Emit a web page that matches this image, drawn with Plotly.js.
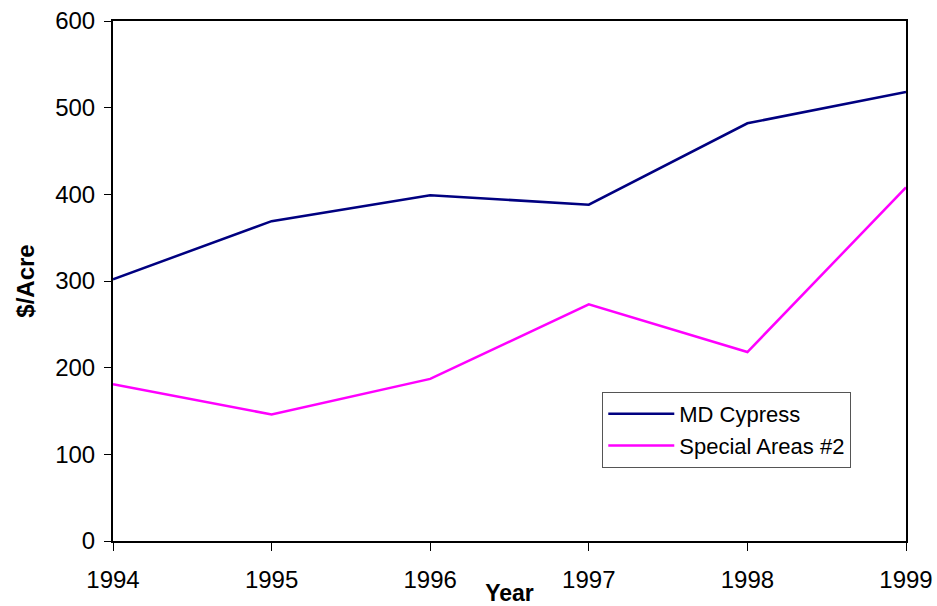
<!DOCTYPE html>
<html><head><meta charset="utf-8">
<script src="https://cdn.plot.ly/plotly-3.0.1.min.js"></script>
<style>body{margin:0;}#chart{width:937px;height:606px;}</style>
</head><body><div id="chart"></div>
<script>
const years = [1994, 1995, 1996, 1997, 1998, 1999];
const mdCypress = [302, 369, 399, 388, 482, 518];
const specialAreas2 = [181, 146, 187, 273, 218, 408];
const yTicks = [0, 100, 200, 300, 400, 500, 600];

const font = 'Liberation Sans, Arial, sans-serif';
const traces = [
  {x: years, y: mdCypress, name: 'MD Cypress', mode: 'lines', legendgroup: 'a', line: {color: '#000080', width: 2.5}},
  {x: years, y: specialAreas2, name: 'Special Areas #2', mode: 'lines', legendgroup: 'b', line: {color: '#ff00ff', width: 2.5}}
];
const layout = {
  width: 937, height: 606,
  margin: {l: 113, r: 31, t: 21, b: 65},
  paper_bgcolor: '#fff', plot_bgcolor: '#fff',
  font: {family: font, color: '#000'},
  showlegend: true,
  legend: {x: 0.617, y: 0.2865, xanchor: 'left', yanchor: 'top', bordercolor: '#555', borderwidth: 1,
           bgcolor: '#fff', font: {size: 22, family: font}, tracegroupgap: 0, itemwidth: 66},
  xaxis: {range: [1994, 1999], tickvals: years, ticktext: years.map(String), showgrid: false, zeroline: false,
          showline: true, linecolor: '#000', linewidth: 1.5, mirror: true, ticks: 'outside', ticklen: 8,
          tickcolor: '#000', tickfont: {size: 24, family: font}, ticklabelstandoff: 8,
          title: {text: '<b>Year</b>', font: {size: 23, family: font}, standoff: 3}},
  xaxis2: {range: [1994, 1999], overlaying: 'x', side: 'bottom', tickvals: years, showticklabels: false,
           showgrid: false, zeroline: false, showline: false, ticks: 'inside', ticklen: 8, tickcolor: '#000'},
  yaxis: {range: [0, 600], tickvals: yTicks, showgrid: false, zeroline: false, showline: true,
          linecolor: '#000', linewidth: 2, mirror: true, ticks: 'outside', ticklen: 7, tickcolor: '#000',
          tickfont: {size: 24, family: font}, ticklabelstandoff: 4,
          title: {text: '<b>$/Acre</b>', font: {size: 24, family: font}, standoff: 14}}
};
Plotly.newPlot('chart', traces, layout, {displayModeBar: false});
</script></body></html>
